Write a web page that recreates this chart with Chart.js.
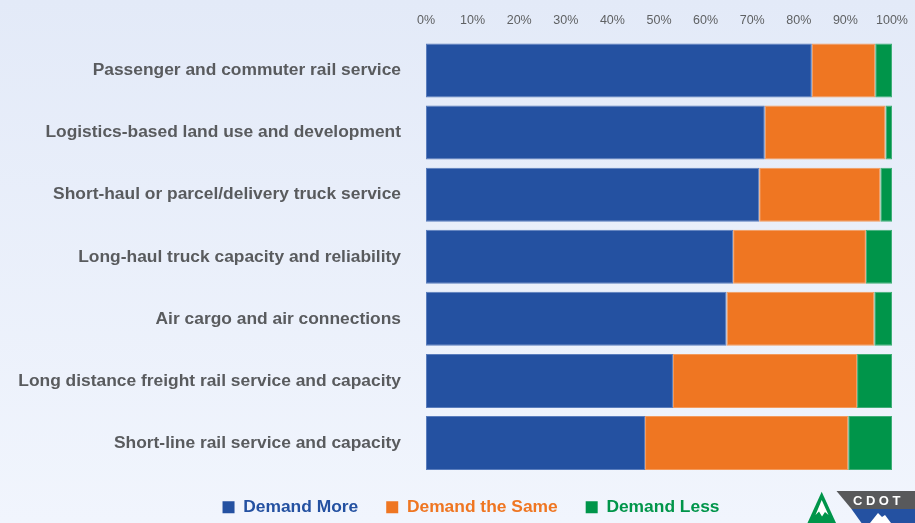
<!DOCTYPE html>
<html>
<head>
<meta charset="utf-8">
<script src="https://cdn.jsdelivr.net/npm/chart.js@4.4.1/dist/chart.umd.min.js"></script>
<style>
    html, body { margin: 0; padding: 0; }
    body {
        width: 915px; height: 523px; overflow: hidden; position: relative;
        background: linear-gradient(to bottom, #e3eaf8 0%, #f1f5fd 100%);
    }
    #wrap { position: absolute; left: 0; top: 0; width: 915px; height: 523px; }
    #logo { position: absolute; left: 790px; top: 480px; }
</style>
</head>
<body>
<div id="wrap"><canvas id="demandChart" width="915" height="523"></canvas></div>
<svg id="logo" width="125" height="43" viewBox="0 0 125 43">
    <!-- mountain -->
    <polygon points="31.7,11.7 46,43 17.5,43" fill="#00954a"/>
    <polygon points="31.7,20 38.5,35 35,32 32,36.5 29,31.5 25.5,35" fill="#ffffff"/>
    <!-- shield -->
    <polygon points="46.5,11 125,11 125,29 61.5,29" fill="#58595b"/>
    <polygon points="61.5,29 125,29 125,43 71.5,43" fill="#2451a1"/>
    <polygon points="80,43 88,33 92,37 95,35 101,43" fill="#ffffff"/>
    <text x="63" y="25" fill="#ffffff" font-family="Liberation Sans, Arial, sans-serif" font-weight="bold" font-size="13" letter-spacing="3.5">CDOT</text>
</svg>
<script>
    // Survey categories
    const categories = [
        "Passenger and commuter rail service",
        "Logistics-based land use and development",
        "Short-haul or parcel/delivery truck service",
        "Long-haul truck capacity and reliability",
        "Air cargo and air connections",
        "Long distance freight rail service and capacity",
        "Short-line rail service and capacity"
    ];

    // Percent of responses
    const demandMore = [82.8, 72.7, 71.5, 65.9, 64.5, 53.0, 47.0];
    const demandSame = [13.6, 25.9, 26.0, 28.5, 31.7, 39.5, 43.6];
    const demandLess = [3.6, 1.4, 2.5, 5.6, 3.8, 7.5, 9.4];

    const seriesNames = ["Demand More", "Demand the Same", "Demand Less"];
    const xTicks = [0, 10, 20, 30, 40, 50, 60, 70, 80, 90, 100];

    const colors = ["#2451a1", "#ef7622", "#00954a"];
    const edgeColors = ["#5a7dbd", "#f39a5c", "#3fae76"];
    const fontFamily = "'Liberation Sans', Arial, sans-serif";

    // keep legend block to fixed height and nudge it like the original
    const legendTweak = {
        id: "legendTweak",
        beforeInit(chart) {
            const lg = chart.legend;
            if (!lg) return;
            const origFit = lg.fit;
            lg.fit = function() {
                origFit.call(this);
                this.height = 49;
            };
        },
        afterLayout(chart) {
            const lg = chart.legend;
            if (!lg) return;
            lg.left += 25;
            lg.right += 25;
            lg.top -= 3.5;
            lg.bottom -= 3.5;
        }
    };

    const ctx = document.getElementById("demandChart").getContext("2d");
    new Chart(ctx, {
        type: "bar",
        data: {
            labels: categories,
            datasets: [demandMore, demandSame, demandLess].map((vals, i) => ({
                label: seriesNames[i],
                data: vals,
                backgroundColor: colors[i],
                borderColor: edgeColors[i],
                borderWidth: 1,
                borderSkipped: false,
                categoryPercentage: 0.87,
                barPercentage: 1
            }))
        },
        options: {
            indexAxis: "y",
            responsive: false,
            animation: false,
            layout: { padding: { left: 0, right: 23, top: 0, bottom: 0 } },
            scales: {
                x: {
                    position: "top",
                    stacked: true,
                    min: 0,
                    max: 100,
                    afterBuildTicks: scale => {
                        scale.ticks = xTicks.map(v => ({ value: v }));
                    },
                    afterFit: scale => {
                        scale.height = 39.5;
                        scale.paddingLeft = 0;
                        scale.paddingRight = 0;
                    },
                    grid: { display: false, drawTicks: false, tickLength: 0 },
                    border: { display: false },
                    ticks: {
                        padding: 11,
                        color: "#5f6163",
                        font: { family: fontFamily, size: 12.5 },
                        callback: v => v + "%",
                        maxRotation: 0,
                        autoSkip: false
                    }
                },
                y: {
                    stacked: true,
                    afterFit: scale => { scale.width = 426; },
                    grid: { display: false, drawTicks: false, tickLength: 0 },
                    border: { display: false },
                    ticks: {
                        padding: 25,
                        color: "#595b5e",
                        font: { family: fontFamily, size: 17.4, weight: "bold" },
                        autoSkip: false
                    }
                }
            },
            plugins: {
                tooltip: { enabled: false },
                legend: {
                    position: "bottom",
                    labels: {
                        boxWidth: 12,
                        boxHeight: 12,
                        padding: 28,
                        font: { family: fontFamily, size: 17.4, weight: "bold" },
                        generateLabels: chart => chart.data.datasets.map((ds, i) => ({
                            text: ds.label,
                            fillStyle: colors[i],
                            strokeStyle: colors[i],
                            lineWidth: 0,
                            fontColor: colors[i],
                            datasetIndex: i
                        }))
                    }
                }
            }
        },
        plugins: [legendTweak]
    });
</script>
</body>
</html>
